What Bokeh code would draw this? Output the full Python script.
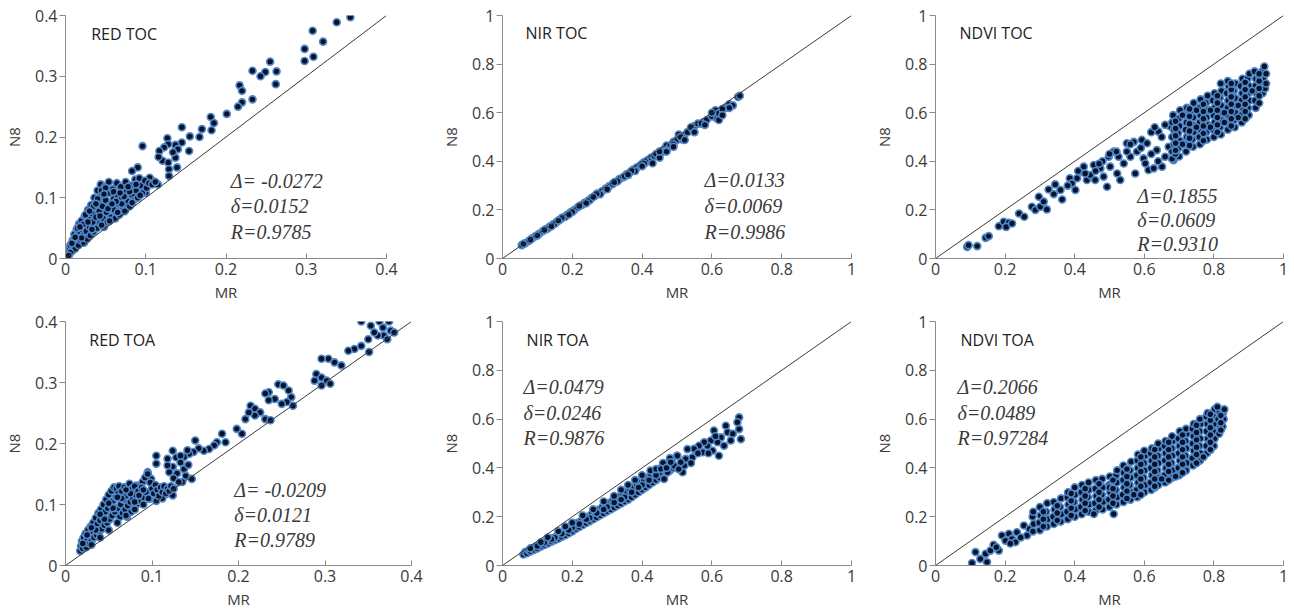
from bokeh.plotting import figure
from bokeh.models import Range1d, FixedTicker, CustomJSTickFormatter, Slope, Label
from bokeh.layouts import column, row
from bokeh.embed import file_html
from bokeh.resources import INLINE

# ---------------- data (MR, N8) pairs ----------------
red_toc = [
    (0.355, 0.397), (0.338, 0.389), (0.308, 0.375), (0.298, 0.345), (0.321, 0.357), (0.298, 0.325),
    (0.309, 0.332), (0.255, 0.324), (0.263, 0.308), (0.249, 0.307), (0.243, 0.300), (0.233, 0.309),
    (0.262, 0.287), (0.233, 0.262), (0.217, 0.285), (0.220, 0.276), (0.220, 0.257), (0.215, 0.250),
    (0.201, 0.238), (0.181, 0.233), (0.185, 0.223), (0.182, 0.211), (0.170, 0.213), (0.167, 0.200),
    (0.155, 0.201), (0.154, 0.177), (0.145, 0.216), (0.145, 0.191), (0.137, 0.187), (0.140, 0.180),
    (0.137, 0.166), (0.134, 0.175), (0.127, 0.198), (0.128, 0.188), (0.123, 0.183), (0.117, 0.177),
    (0.121, 0.161), (0.128, 0.158), (0.129, 0.147), (0.139, 0.150), (0.129, 0.136), (0.096, 0.185),
    (0.116, 0.167), (0.090, 0.150), (0.083, 0.144), (0.115, 0.122), (0.102, 0.122), (0.100, 0.108),
    (0.108, 0.128), (0.105, 0.133),
    (0.003, 0.008), (0.005, 0.015), (0.006, 0.022), (0.008, 0.012), (0.009, 0.030), (0.010, 0.020),
    (0.011, 0.040), (0.012, 0.016), (0.013, 0.028), (0.014, 0.048), (0.015, 0.036), (0.016, 0.022),
    (0.017, 0.057), (0.018, 0.044), (0.019, 0.030), (0.020, 0.062), (0.021, 0.052), (0.022, 0.038),
    (0.023, 0.026), (0.024, 0.070), (0.025, 0.058), (0.026, 0.045), (0.027, 0.032), (0.028, 0.080),
    (0.029, 0.066), (0.030, 0.052), (0.031, 0.038), (0.032, 0.088), (0.033, 0.074), (0.034, 0.060),
    (0.035, 0.044), (0.036, 0.100), (0.037, 0.084), (0.038, 0.068), (0.039, 0.050), (0.040, 0.112),
    (0.041, 0.094), (0.042, 0.078), (0.043, 0.058), (0.044, 0.122), (0.045, 0.104), (0.046, 0.086),
    (0.047, 0.066), (0.048, 0.052), (0.049, 0.118), (0.050, 0.096), (0.051, 0.076), (0.052, 0.060),
    (0.054, 0.126), (0.055, 0.108), (0.056, 0.088), (0.057, 0.068), (0.059, 0.114), (0.060, 0.098),
    (0.061, 0.080), (0.062, 0.066), (0.064, 0.124), (0.065, 0.104), (0.066, 0.090), (0.067, 0.072),
    (0.069, 0.118), (0.070, 0.100), (0.072, 0.084), (0.074, 0.078), (0.075, 0.126), (0.076, 0.110),
    (0.078, 0.094), (0.080, 0.086), (0.081, 0.120), (0.083, 0.104), (0.085, 0.096), (0.087, 0.130),
    (0.088, 0.112), (0.090, 0.100), (0.092, 0.132), (0.094, 0.120), (0.096, 0.108), (0.099, 0.128),
    (0.101, 0.116), (0.104, 0.124), (0.108, 0.122), (0.112, 0.126), (0.015, 0.050), (0.025, 0.072),
    (0.035, 0.086), (0.045, 0.112), (0.030, 0.078), (0.040, 0.098), (0.050, 0.116), (0.060, 0.110),
    (0.070, 0.090), (0.080, 0.110), (0.020, 0.034), (0.010, 0.030), (0.033, 0.048), (0.043, 0.070),
    (0.053, 0.082), (0.063, 0.094), (0.073, 0.102), (0.006, 0.010), (0.004, 0.005), (0.008, 0.025),
    (0.012, 0.035), (0.022, 0.056), (0.018, 0.052), (0.028, 0.060), (0.038, 0.090), (0.048, 0.106),
    (0.058, 0.090), (0.068, 0.108), (0.078, 0.118), (0.088, 0.122), (0.065, 0.076), (0.055, 0.062),
    (0.045, 0.055), (0.083, 0.092), (0.093, 0.104),
]

nir_toc = [
    (0.055, 0.055), (0.065, 0.063), (0.075, 0.072), (0.085, 0.083), (0.095, 0.092), (0.105, 0.102),
    (0.115, 0.112), (0.125, 0.121), (0.135, 0.131), (0.145, 0.141), (0.155, 0.150), (0.165, 0.160),
    (0.175, 0.170), (0.185, 0.180), (0.195, 0.190), (0.205, 0.199), (0.215, 0.210), (0.225, 0.219),
    (0.235, 0.229), (0.245, 0.238), (0.255, 0.249), (0.265, 0.258), (0.275, 0.268), (0.285, 0.277),
    (0.295, 0.287), (0.305, 0.297), (0.315, 0.306), (0.325, 0.316), (0.335, 0.327), (0.345, 0.334),
    (0.355, 0.346), (0.365, 0.354), (0.375, 0.366), (0.385, 0.375), (0.395, 0.384), (0.405, 0.396),
    (0.415, 0.404), (0.425, 0.414), (0.435, 0.422), (0.445, 0.432), (0.455, 0.442), (0.465, 0.452),
    (0.470, 0.465), (0.480, 0.462), (0.490, 0.480), (0.500, 0.488), (0.505, 0.510), (0.515, 0.490),
    (0.520, 0.505), (0.530, 0.520), (0.545, 0.530), (0.550, 0.545), (0.560, 0.555), (0.575, 0.560),
    (0.585, 0.570), (0.600, 0.585), (0.610, 0.610), (0.615, 0.575), (0.620, 0.598), (0.640, 0.620),
    (0.650, 0.635), (0.660, 0.630), (0.675, 0.665), (0.680, 0.670),
    (0.100, 0.095), (0.150, 0.143), (0.200, 0.192), (0.250, 0.240), (0.300, 0.290), (0.350, 0.338),
    (0.400, 0.390), (0.420, 0.400), (0.440, 0.430), (0.460, 0.440), (0.380, 0.360), (0.330, 0.318),
    (0.280, 0.265), (0.230, 0.222), (0.180, 0.172), (0.130, 0.124), (0.080, 0.077), (0.120, 0.117),
    (0.170, 0.167), (0.220, 0.216), (0.270, 0.266), (0.320, 0.314), (0.370, 0.361), (0.410, 0.398),
    (0.430, 0.392), (0.450, 0.415), (0.470, 0.445), (0.490, 0.470), (0.510, 0.500), (0.540, 0.540),
    (0.570, 0.555), (0.600, 0.600), (0.630, 0.615), (0.650, 0.620), (0.450, 0.440), (0.360, 0.344),
    (0.260, 0.253), (0.160, 0.156), (0.060, 0.060), (0.406, 0.390), (0.522, 0.488),
    (0.470, 0.440), (0.490, 0.460), (0.550, 0.520), (0.580, 0.550), (0.620, 0.570), (0.630, 0.590),
    (0.400, 0.380), (0.360, 0.345), (0.300, 0.285), (0.240, 0.228), (0.190, 0.181), (0.140, 0.133),
]

ndvi_toc = [
    (0.091, 0.048), (0.095, 0.055), (0.120, 0.051), (0.144, 0.085), (0.153, 0.092), (0.182, 0.133),
    (0.196, 0.151), (0.210, 0.147), (0.203, 0.130), (0.220, 0.144), (0.240, 0.185), (0.255, 0.172),
    (0.277, 0.213), (0.287, 0.200), (0.301, 0.213), (0.320, 0.202), (0.325, 0.284), (0.297, 0.254),
    (0.311, 0.234), (0.340, 0.265), (0.344, 0.305), (0.359, 0.282), (0.364, 0.243), (0.386, 0.330),
    (0.392, 0.309), (0.402, 0.282), (0.407, 0.330), (0.421, 0.357), (0.426, 0.378), (0.435, 0.323),
    (0.445, 0.343), (0.455, 0.385), (0.459, 0.323), (0.474, 0.371), (0.483, 0.337), (0.493, 0.295),
    (0.498, 0.419), (0.502, 0.378), (0.512, 0.440), (0.522, 0.350), (0.531, 0.323), (0.526, 0.419),
    (0.541, 0.391), (0.550, 0.474), (0.560, 0.419), (0.574, 0.350), (0.579, 0.440), (0.593, 0.488),
    (0.598, 0.412), (0.603, 0.391), (0.608, 0.474), (0.612, 0.364), (0.627, 0.371), (0.636, 0.446),
    (0.641, 0.522), (0.651, 0.378), (0.660, 0.419), (0.670, 0.460), (0.675, 0.543), (0.684, 0.405),
    (0.480, 0.400), (0.500, 0.430), (0.520, 0.440), (0.570, 0.480), (0.620, 0.520), (0.660, 0.550),
    (0.380, 0.300), (0.410, 0.360), (0.430, 0.350), (0.470, 0.390), (0.550, 0.440), (0.590, 0.455),
    (0.640, 0.400), (0.650, 0.500), (0.630, 0.540), (0.560, 0.470), (0.460, 0.360), (0.620, 0.430),
    (0.680, 0.410), (0.680, 0.440), (0.685, 0.470), (0.680, 0.500), (0.685, 0.530), (0.680, 0.560), (0.683, 0.590),
    (0.700, 0.420), (0.698, 0.455), (0.702, 0.485), (0.697, 0.515), (0.701, 0.545), (0.699, 0.575), (0.703, 0.610),
    (0.720, 0.440), (0.718, 0.470), (0.722, 0.500), (0.719, 0.530), (0.721, 0.560), (0.717, 0.590), (0.722, 0.620),
    (0.740, 0.460), (0.738, 0.490), (0.742, 0.520), (0.739, 0.550), (0.741, 0.580), (0.737, 0.610), (0.742, 0.640),
    (0.760, 0.470), (0.758, 0.500), (0.762, 0.530), (0.759, 0.560), (0.761, 0.590), (0.757, 0.620), (0.762, 0.655),
    (0.780, 0.490), (0.778, 0.520), (0.782, 0.550), (0.779, 0.580), (0.781, 0.610), (0.777, 0.640), (0.782, 0.670),
    (0.800, 0.500), (0.798, 0.530), (0.802, 0.560), (0.799, 0.590), (0.801, 0.620), (0.797, 0.650), (0.802, 0.680),
    (0.820, 0.510), (0.818, 0.540), (0.822, 0.570), (0.819, 0.600), (0.821, 0.630), (0.817, 0.660), (0.822, 0.690), (0.820, 0.720),
    (0.840, 0.530), (0.838, 0.560), (0.842, 0.590), (0.839, 0.620), (0.841, 0.650), (0.837, 0.680), (0.842, 0.710), (0.840, 0.730),
    (0.860, 0.540), (0.858, 0.570), (0.862, 0.600), (0.859, 0.630), (0.861, 0.660), (0.857, 0.690), (0.862, 0.720),
    (0.880, 0.560), (0.878, 0.590), (0.882, 0.620), (0.879, 0.650), (0.881, 0.680), (0.877, 0.710), (0.882, 0.740),
    (0.900, 0.590), (0.898, 0.620), (0.902, 0.650), (0.899, 0.680), (0.901, 0.710), (0.897, 0.740), (0.902, 0.760),
    (0.920, 0.620), (0.918, 0.650), (0.922, 0.680), (0.919, 0.710), (0.921, 0.740), (0.917, 0.770),
    (0.940, 0.680), (0.938, 0.710), (0.942, 0.740), (0.939, 0.770), (0.945, 0.790), (0.947, 0.700),
    (0.690, 0.430), (0.710, 0.470), (0.730, 0.500), (0.750, 0.540), (0.770, 0.570), (0.790, 0.610),
    (0.810, 0.650), (0.830, 0.600), (0.850, 0.680), (0.870, 0.630), (0.890, 0.700), (0.910, 0.690),
    (0.930, 0.750), (0.710, 0.590), (0.750, 0.610), (0.790, 0.540), (0.830, 0.560), (0.870, 0.580),
    (0.690, 0.445), (0.690, 0.475), (0.690, 0.505), (0.690, 0.535), (0.690, 0.565), (0.730, 0.465),
    (0.730, 0.495), (0.730, 0.525), (0.730, 0.555), (0.730, 0.585), (0.730, 0.615), (0.770, 0.485),
    (0.770, 0.515), (0.770, 0.545), (0.770, 0.575), (0.770, 0.605), (0.770, 0.635), (0.810, 0.520),
    (0.810, 0.550), (0.810, 0.580), (0.810, 0.610), (0.810, 0.640), (0.810, 0.670), (0.850, 0.545),
    (0.850, 0.575), (0.850, 0.605), (0.850, 0.635), (0.850, 0.665), (0.850, 0.695), (0.850, 0.720),
    (0.890, 0.575), (0.890, 0.605), (0.890, 0.635), (0.890, 0.665), (0.890, 0.695), (0.890, 0.725),
    (0.930, 0.640), (0.930, 0.670), (0.930, 0.700), (0.930, 0.730), (0.930, 0.760), (0.950, 0.720),
    (0.950, 0.760),
]

red_toa = [
    (0.342, 0.400), (0.353, 0.393), (0.363, 0.400), (0.374, 0.400), (0.367, 0.390), (0.376, 0.385),
    (0.368, 0.377), (0.361, 0.377), (0.357, 0.382), (0.350, 0.371), (0.380, 0.382), (0.372, 0.371),
    (0.351, 0.350), (0.342, 0.360), (0.334, 0.355), (0.327, 0.352), (0.319, 0.328), (0.311, 0.333),
    (0.304, 0.339), (0.296, 0.339), (0.290, 0.314), (0.296, 0.308), (0.302, 0.303), (0.296, 0.295),
    (0.306, 0.298), (0.288, 0.303),
    (0.246, 0.297), (0.252, 0.295), (0.258, 0.287), (0.261, 0.276), (0.263, 0.262), (0.256, 0.268),
    (0.250, 0.265), (0.242, 0.273), (0.235, 0.284), (0.231, 0.282), (0.235, 0.271),
    (0.214, 0.262), (0.219, 0.257), (0.225, 0.251), (0.219, 0.246), (0.212, 0.251), (0.208, 0.240),
    (0.231, 0.240), (0.237, 0.238), (0.198, 0.224), (0.204, 0.216),
    (0.181, 0.216), (0.185, 0.202), (0.175, 0.202), (0.172, 0.197), (0.166, 0.191), (0.160, 0.188),
    (0.150, 0.205), (0.154, 0.192), (0.148, 0.186), (0.143, 0.183), (0.141, 0.189), (0.137, 0.178),
    (0.124, 0.188), (0.128, 0.177), (0.133, 0.169), (0.137, 0.158), (0.129, 0.151), (0.139, 0.147),
    (0.146, 0.142), (0.135, 0.137), (0.124, 0.162), (0.118, 0.164), (0.120, 0.153), (0.125, 0.143),
    (0.131, 0.137), (0.118, 0.175), (0.105, 0.180), (0.105, 0.167), (0.142, 0.165), (0.133, 0.180),
    (0.095, 0.153), (0.099, 0.142), (0.089, 0.137), (0.082, 0.131), (0.089, 0.120), (0.101, 0.123),
    (0.108, 0.123), (0.116, 0.117), (0.124, 0.115), (0.112, 0.110), (0.105, 0.106), (0.097, 0.109),
    (0.017, 0.024), (0.018, 0.032), (0.019, 0.040), (0.020, 0.028), (0.021, 0.046), (0.022, 0.035),
    (0.023, 0.052), (0.024, 0.030), (0.025, 0.042), (0.026, 0.058), (0.027, 0.036), (0.028, 0.050),
    (0.029, 0.064), (0.030, 0.040), (0.031, 0.056), (0.032, 0.070), (0.033, 0.046), (0.034, 0.062),
    (0.035, 0.078), (0.036, 0.050), (0.037, 0.068), (0.038, 0.086), (0.039, 0.055), (0.040, 0.074),
    (0.041, 0.092), (0.042, 0.060), (0.043, 0.080), (0.044, 0.100), (0.045, 0.066), (0.046, 0.088),
    (0.047, 0.108), (0.048, 0.070), (0.049, 0.094), (0.050, 0.116), (0.051, 0.076), (0.052, 0.100),
    (0.053, 0.122), (0.054, 0.082), (0.055, 0.106), (0.056, 0.128), (0.057, 0.088), (0.058, 0.112),
    (0.059, 0.126), (0.060, 0.094), (0.061, 0.118), (0.062, 0.130), (0.063, 0.080), (0.064, 0.100),
    (0.065, 0.122), (0.066, 0.086), (0.067, 0.108), (0.068, 0.128), (0.069, 0.092), (0.070, 0.114),
    (0.071, 0.080), (0.072, 0.098), (0.073, 0.120), (0.074, 0.134), (0.075, 0.104), (0.076, 0.088),
    (0.077, 0.126), (0.078, 0.110), (0.079, 0.094), (0.080, 0.130), (0.081, 0.116), (0.082, 0.100),
    (0.084, 0.122), (0.086, 0.106), (0.088, 0.128), (0.090, 0.112), (0.092, 0.144), (0.093, 0.120),
    (0.095, 0.150), (0.096, 0.110), (0.098, 0.136), (0.100, 0.126), (0.102, 0.118), (0.104, 0.132),
    (0.106, 0.124), (0.108, 0.114), (0.110, 0.128), (0.112, 0.120), (0.114, 0.130), (0.116, 0.118),
    (0.118, 0.126), (0.120, 0.122), (0.122, 0.130), (0.125, 0.126),
    (0.030, 0.034), (0.040, 0.046), (0.050, 0.058), (0.060, 0.070), (0.070, 0.082), (0.080, 0.092),
    (0.090, 0.100), (0.025, 0.050), (0.035, 0.058), (0.045, 0.076), (0.055, 0.094), (0.065, 0.110),
    (0.075, 0.118), (0.085, 0.115), (0.020, 0.036), (0.030, 0.062), (0.040, 0.084), (0.050, 0.102),
    (0.060, 0.112), (0.070, 0.124), (0.080, 0.104), (0.090, 0.124),
]

nir_toa = [
    (0.060, 0.045), (0.065, 0.055), (0.070, 0.050), (0.075, 0.062), (0.080, 0.058), (0.085, 0.070),
    (0.090, 0.064), (0.095, 0.078), (0.100, 0.070), (0.105, 0.085), (0.110, 0.078), (0.115, 0.092),
    (0.120, 0.084), (0.125, 0.098), (0.130, 0.090), (0.135, 0.106), (0.140, 0.098), (0.145, 0.112),
    (0.150, 0.104), (0.155, 0.120), (0.160, 0.110), (0.165, 0.128), (0.170, 0.118), (0.175, 0.134),
    (0.180, 0.124), (0.185, 0.142), (0.190, 0.132), (0.195, 0.150), (0.200, 0.140), (0.205, 0.165),
    (0.210, 0.150), (0.215, 0.175), (0.220, 0.158), (0.225, 0.182), (0.230, 0.166), (0.235, 0.190),
    (0.240, 0.174), (0.245, 0.200), (0.250, 0.182), (0.255, 0.210), (0.260, 0.190), (0.265, 0.220),
    (0.270, 0.198), (0.275, 0.228), (0.280, 0.206), (0.285, 0.238), (0.290, 0.214), (0.295, 0.246),
    (0.300, 0.222), (0.305, 0.256), (0.310, 0.230), (0.315, 0.264), (0.320, 0.238), (0.325, 0.272),
    (0.330, 0.246), (0.335, 0.282), (0.340, 0.254), (0.345, 0.290), (0.350, 0.262), (0.355, 0.300),
    (0.360, 0.270), (0.365, 0.310), (0.370, 0.280), (0.375, 0.320), (0.380, 0.290), (0.385, 0.330),
    (0.390, 0.300), (0.395, 0.340), (0.400, 0.310), (0.405, 0.350), (0.410, 0.320), (0.415, 0.360),
    (0.420, 0.330), (0.425, 0.370), (0.430, 0.340), (0.435, 0.380), (0.440, 0.350), (0.445, 0.390),
    (0.450, 0.360), (0.455, 0.400), (0.460, 0.370), (0.465, 0.410), (0.470, 0.380), (0.475, 0.420),
    (0.480, 0.390), (0.485, 0.430), (0.490, 0.400),
    (0.100, 0.080), (0.150, 0.114), (0.200, 0.155), (0.250, 0.195), (0.300, 0.240), (0.350, 0.280),
    (0.400, 0.330), (0.450, 0.380), (0.120, 0.094), (0.170, 0.130), (0.220, 0.170), (0.270, 0.215),
    (0.320, 0.258), (0.370, 0.300), (0.420, 0.350), (0.140, 0.108), (0.190, 0.145), (0.240, 0.190),
    (0.290, 0.230), (0.340, 0.270), (0.390, 0.320), (0.440, 0.370), (0.380, 0.350), (0.360, 0.330),
    (0.340, 0.310), (0.400, 0.370), (0.424, 0.389), (0.440, 0.395), (0.460, 0.420), (0.480, 0.440),
    (0.500, 0.450), (0.160, 0.140), (0.180, 0.160), (0.200, 0.175), (0.230, 0.205), (0.260, 0.230),
    (0.290, 0.262), (0.320, 0.285), (0.080, 0.070), (0.110, 0.095), (0.130, 0.115),
    (0.678, 0.607), (0.673, 0.587), (0.678, 0.559), (0.683, 0.518), (0.654, 0.512), (0.640, 0.573),
    (0.645, 0.546), (0.626, 0.525), (0.616, 0.505), (0.635, 0.491), (0.606, 0.553), (0.597, 0.512),
    (0.602, 0.471), (0.587, 0.491), (0.578, 0.505), (0.573, 0.464), (0.563, 0.491), (0.549, 0.478),
    (0.544, 0.443), (0.530, 0.477), (0.525, 0.437), (0.521, 0.409), (0.516, 0.382), (0.511, 0.423),
    (0.501, 0.450), (0.492, 0.409), (0.482, 0.423), (0.473, 0.382), (0.463, 0.355), (0.454, 0.396),
    (0.620, 0.450), (0.660, 0.540), (0.610, 0.530), (0.590, 0.460), (0.560, 0.460), (0.540, 0.420),
    (0.505, 0.395), (0.470, 0.400),
]

ndvi_toa = [
    (0.105, 0.010), (0.115, 0.055), (0.129, 0.027), (0.144, 0.048), (0.148, 0.014), (0.158, 0.061),
    (0.167, 0.085), (0.182, 0.061), (0.191, 0.123), (0.201, 0.102), (0.211, 0.130), (0.220, 0.109),
    (0.234, 0.136), (0.230, 0.096), (0.254, 0.164), (0.263, 0.123), (0.175, 0.075), (0.215, 0.090),
    (0.245, 0.115), (0.270, 0.150),
    (0.280, 0.140), (0.282, 0.170), (0.279, 0.200), (0.281, 0.220),
    (0.300, 0.145), (0.298, 0.175), (0.302, 0.205), (0.300, 0.240),
    (0.320, 0.160), (0.322, 0.190), (0.318, 0.220), (0.321, 0.255),
    (0.340, 0.170), (0.338, 0.200), (0.342, 0.230), (0.340, 0.260),
    (0.360, 0.180), (0.362, 0.210), (0.358, 0.240), (0.361, 0.275),
    (0.380, 0.190), (0.378, 0.220), (0.382, 0.250), (0.379, 0.280), (0.381, 0.300),
    (0.400, 0.200), (0.402, 0.230), (0.398, 0.260), (0.401, 0.290), (0.400, 0.320),
    (0.420, 0.210), (0.418, 0.240), (0.422, 0.270), (0.419, 0.300), (0.421, 0.330),
    (0.440, 0.220), (0.442, 0.250), (0.438, 0.280), (0.441, 0.310), (0.440, 0.340),
    (0.460, 0.225), (0.458, 0.255), (0.462, 0.285), (0.459, 0.315), (0.461, 0.350),
    (0.480, 0.230), (0.482, 0.260), (0.478, 0.290), (0.481, 0.320), (0.479, 0.355),
    (0.500, 0.240), (0.498, 0.270), (0.502, 0.300), (0.499, 0.330), (0.501, 0.365),
    (0.520, 0.250), (0.522, 0.280), (0.518, 0.310), (0.521, 0.340), (0.519, 0.370), (0.522, 0.390),
    (0.540, 0.260), (0.538, 0.290), (0.542, 0.320), (0.539, 0.350), (0.541, 0.380), (0.540, 0.410),
    (0.560, 0.270), (0.562, 0.300), (0.558, 0.330), (0.561, 0.360), (0.559, 0.390), (0.562, 0.425),
    (0.580, 0.280), (0.578, 0.310), (0.582, 0.340), (0.579, 0.370), (0.581, 0.400), (0.580, 0.430), (0.582, 0.455),
    (0.600, 0.300), (0.602, 0.330), (0.598, 0.360), (0.601, 0.390), (0.599, 0.420), (0.602, 0.450), (0.600, 0.470),
    (0.620, 0.310), (0.618, 0.340), (0.622, 0.370), (0.619, 0.400), (0.621, 0.430), (0.618, 0.460), (0.622, 0.480),
    (0.640, 0.330), (0.642, 0.360), (0.638, 0.390), (0.641, 0.420), (0.639, 0.450), (0.642, 0.480), (0.640, 0.500),
    (0.660, 0.340), (0.658, 0.370), (0.662, 0.400), (0.659, 0.430), (0.661, 0.460), (0.658, 0.490), (0.661, 0.510),
    (0.680, 0.360), (0.682, 0.390), (0.678, 0.420), (0.681, 0.450), (0.679, 0.480), (0.682, 0.510), (0.680, 0.530),
    (0.700, 0.370), (0.698, 0.400), (0.702, 0.430), (0.699, 0.460), (0.701, 0.490), (0.698, 0.520), (0.702, 0.550),
    (0.720, 0.390), (0.722, 0.420), (0.718, 0.450), (0.721, 0.480), (0.719, 0.510), (0.722, 0.540), (0.720, 0.560),
    (0.740, 0.410), (0.738, 0.440), (0.742, 0.470), (0.739, 0.500), (0.741, 0.530), (0.738, 0.560), (0.742, 0.580),
    (0.760, 0.430), (0.762, 0.460), (0.758, 0.490), (0.761, 0.520), (0.759, 0.550), (0.762, 0.580), (0.760, 0.600),
    (0.780, 0.460), (0.778, 0.490), (0.782, 0.520), (0.779, 0.550), (0.781, 0.580), (0.778, 0.610), (0.782, 0.625),
    (0.800, 0.490), (0.802, 0.520), (0.798, 0.550), (0.801, 0.580), (0.799, 0.610), (0.802, 0.640),
    (0.815, 0.540), (0.818, 0.570), (0.812, 0.600), (0.816, 0.630), (0.810, 0.650),
    (0.825, 0.570), (0.828, 0.600), (0.826, 0.625),
    (0.512, 0.211), (0.455, 0.211), (0.500, 0.320), (0.570, 0.290), (0.650, 0.355), (0.710, 0.385),
    (0.770, 0.445), (0.790, 0.475), (0.590, 0.295), (0.630, 0.320), (0.690, 0.365), (0.750, 0.420),
    (0.310, 0.160), (0.310, 0.190), (0.310, 0.220), (0.350, 0.185), (0.350, 0.215), (0.350, 0.245),
    (0.390, 0.205), (0.390, 0.235), (0.390, 0.265), (0.390, 0.295), (0.430, 0.225), (0.430, 0.255),
    (0.430, 0.285), (0.430, 0.315), (0.470, 0.240), (0.470, 0.270), (0.470, 0.300), (0.470, 0.335),
    (0.510, 0.255), (0.510, 0.285), (0.510, 0.315), (0.510, 0.350), (0.550, 0.275), (0.550, 0.305),
    (0.550, 0.335), (0.550, 0.365), (0.550, 0.395), (0.590, 0.290), (0.590, 0.325), (0.590, 0.355),
    (0.590, 0.385), (0.590, 0.415), (0.590, 0.445), (0.630, 0.325), (0.630, 0.355), (0.630, 0.385),
    (0.630, 0.415), (0.630, 0.445), (0.630, 0.475), (0.670, 0.350), (0.670, 0.385), (0.670, 0.415),
    (0.670, 0.445), (0.670, 0.475), (0.670, 0.505), (0.710, 0.380), (0.710, 0.415), (0.710, 0.445),
    (0.710, 0.475), (0.710, 0.505), (0.710, 0.535), (0.750, 0.420), (0.750, 0.455), (0.750, 0.485),
    (0.750, 0.515), (0.750, 0.545), (0.750, 0.575), (0.790, 0.475), (0.790, 0.505), (0.790, 0.535),
    (0.790, 0.565), (0.790, 0.595), (0.790, 0.620), (0.820, 0.555), (0.820, 0.585), (0.820, 0.615),
    (0.830, 0.640),
]

ticks_red = [0, 0.1, 0.2, 0.3, 0.4]
ticks_unit = [0, 0.2, 0.4, 0.6, 0.8, 1]

titles = ["RED TOC", "NIR TOC", "NDVI TOC", "RED TOA", "NIR TOA", "NDVI TOA"]
stats = [
    ["\u0394= -0.0272", "\u03b4=0.0152", "R=0.9785"],
    ["\u0394=0.0133", "\u03b4=0.0069", "R=0.9986"],
    ["\u0394=0.1855", "\u03b4=0.0609", "R=0.9310"],
    ["\u0394= -0.0209", "\u03b4=0.0121", "R=0.9789"],
    ["\u0394=0.0479", "\u03b4=0.0246", "R=0.9876"],
    ["\u0394=0.2066", "\u03b4=0.0489", "R=0.97284"],
]

SANS = "Open Sans"
SERIF = "Liberation Serif"
AXIS_COLOR = "#8a8a8a"
TEXT_COLOR = "#3a3a3a"


def panel(points, lim, ticks, title, title_xy, stat_lines, stat_xy, stat_dy,
          width, height, bl, br, bt, bb):
    p = figure(width=width, height=height,
               x_range=Range1d(0, lim), y_range=Range1d(0, lim),
               output_backend="svg", toolbar_location=None,
               min_border_left=bl, min_border_right=br,
               min_border_top=bt, min_border_bottom=bb)
    p.outline_line_color = None
    p.grid.visible = False
    p.background_fill_color = "white"
    p.border_fill_color = "white"

    fmt = CustomJSTickFormatter(code="return String(Math.round(tick*10)/10);")
    for ax in (p.xaxis[0], p.yaxis[0]):
        ax.ticker = FixedTicker(ticks=ticks)
        ax.formatter = fmt
        ax.minor_tick_line_color = None
        ax.axis_line_color = AXIS_COLOR
        ax.major_tick_line_color = AXIS_COLOR
        ax.major_label_text_font = SANS
        ax.major_label_text_font_size = "16px"
        ax.major_label_text_color = TEXT_COLOR
        ax.axis_label_text_font = SANS
        ax.axis_label_text_font_size = "15px"
        ax.axis_label_text_font_style = "normal"
        ax.axis_label_text_color = TEXT_COLOR
    p.xaxis.axis_label = "MR"
    p.yaxis.axis_label = "N8"
    p.xaxis.major_tick_in = 5
    p.xaxis.major_tick_out = 0
    p.xaxis.major_label_standoff = 4
    p.xaxis.axis_label_standoff = 4
    p.yaxis.major_tick_in = 0
    p.yaxis.major_tick_out = 6
    p.yaxis.major_label_standoff = 2
    p.yaxis.axis_label_standoff = 8

    p.add_layout(Slope(gradient=1, y_intercept=0, line_color="#3a3a3a", line_width=1))

    xs = [pt[0] for pt in points]
    ys = [pt[1] for pt in points]
    p.scatter(xs, ys, size=7, marker="circle", fill_color="#08132b",
              line_color="#5088c8", line_width=1.6)

    p.add_layout(Label(x=title_xy[0], y=title_xy[1], text=title, text_font=SANS,
                       text_font_size="16px", text_color="#222222",
                       text_baseline="middle", text_align="left"))
    for i, s in enumerate(stat_lines):
        p.add_layout(Label(x=stat_xy[0], y=stat_xy[1] - i * stat_dy, text=s,
                           text_font=SERIF, text_font_style="italic",
                           text_font_size="20px", text_color="#3a3a3a",
                           text_baseline="middle", text_align="left"))
    return p


p1 = panel(red_toc, 0.4, ticks_red, titles[0], (0.032, 0.370), stats[0], (0.206, 0.128), 0.042,
           430, 305, 62, 44, 15, 47)
p2 = panel(nir_toc, 1.0, ticks_unit, titles[1], (0.066, 0.926), stats[1], (0.579, 0.321), 0.105,
           430, 305, 72, 9, 15, 47)
p3 = panel(ndvi_toc, 1.0, ticks_unit, titles[2], (0.069, 0.926), stats[2], (0.580, 0.259), 0.100,
           434, 305, 75, 11, 15, 47)
p4 = panel(red_toa, 0.4, ticks_red, titles[3], (0.0275, 0.370), stats[3], (0.195, 0.123), 0.041,
           430, 310, 62, 19, 16, 50)
p5 = panel(nir_toa, 1.0, ticks_unit, titles[4], (0.069, 0.926), stats[4], (0.060, 0.730), 0.103,
           430, 310, 72, 9, 16, 50)
p6 = panel(ndvi_toa, 1.0, ticks_unit, titles[5], (0.072, 0.926), stats[5], (0.063, 0.730), 0.103,
           434, 310, 75, 11, 16, 50)

layout = column(row(p1, p2, p3), row(p4, p5, p6))
open("out.html", "w").write(file_html(layout, INLINE))
